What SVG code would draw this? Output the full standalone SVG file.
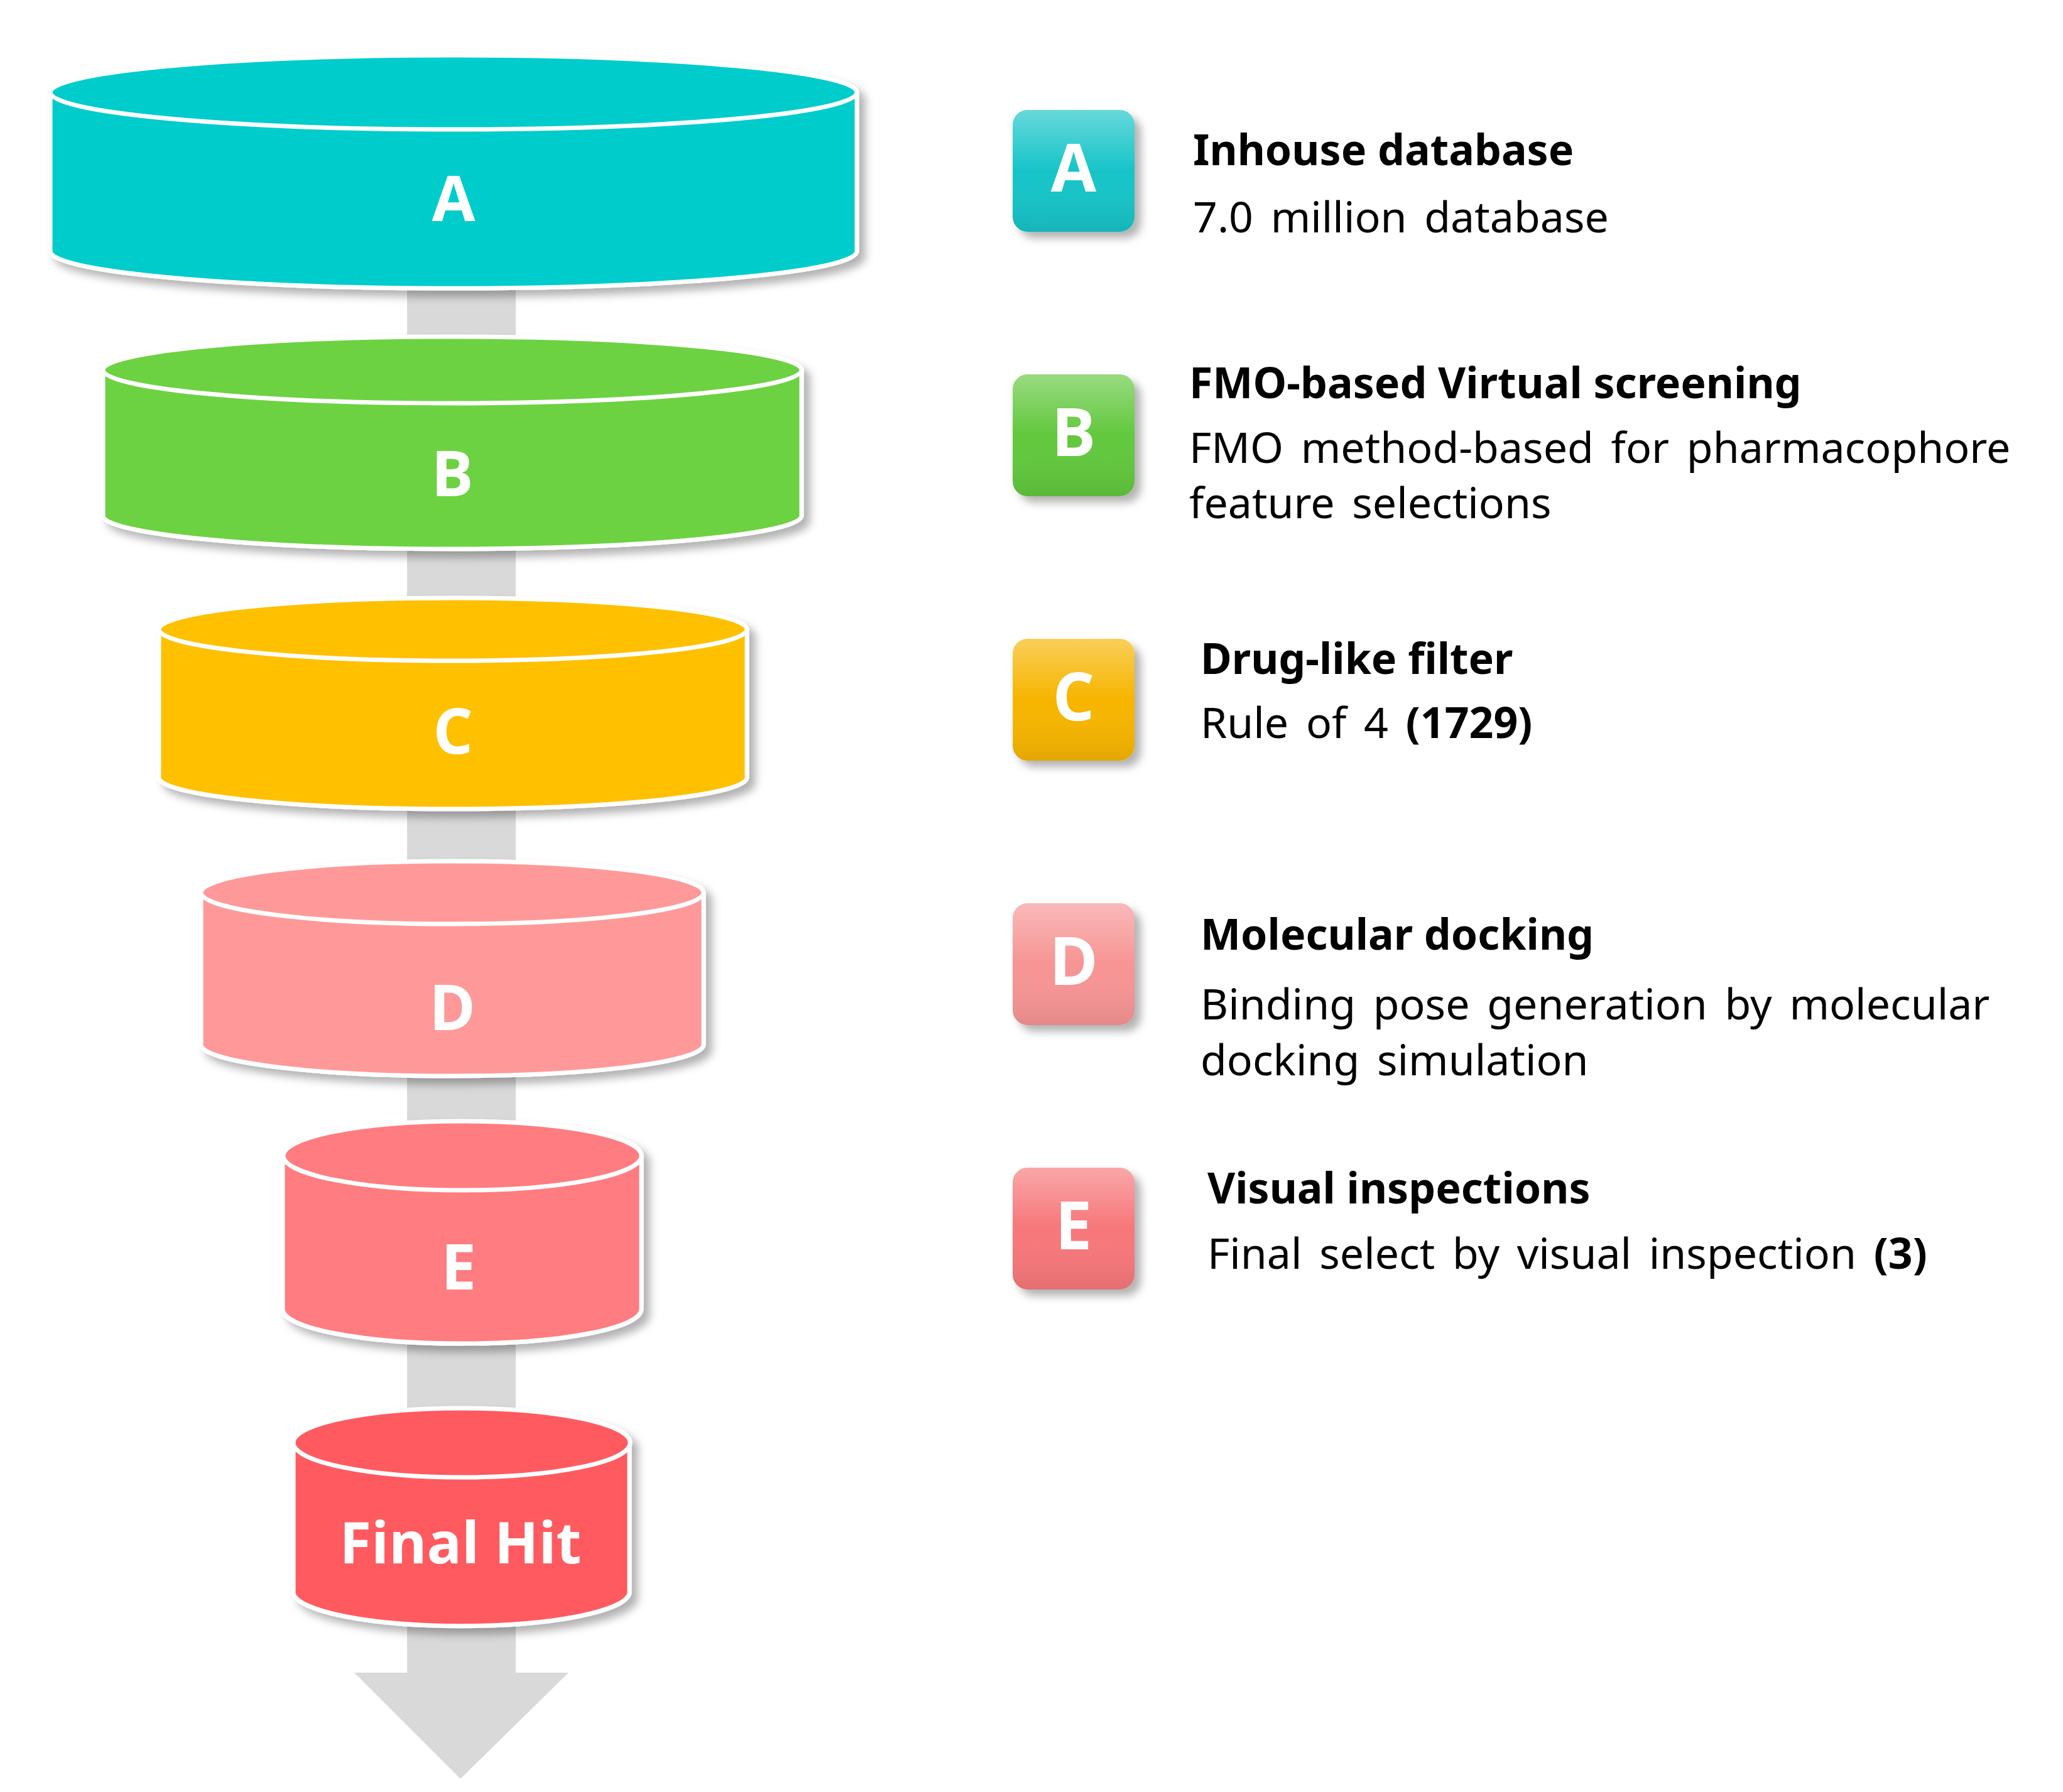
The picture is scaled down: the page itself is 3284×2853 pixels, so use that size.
<svg xmlns="http://www.w3.org/2000/svg" width="3284" height="2853" viewBox="0 0 3284 2853">
<defs>
<filter id="sh" x="-10%" y="-10%" width="125%" height="130%"><feDropShadow dx="10" dy="10" stdDeviation="7" flood-color="#000" flood-opacity="0.3"/></filter>
<linearGradient id="gl" x1="0" y1="0" x2="0" y2="1"><stop offset="0" stop-color="#fff" stop-opacity="0.35"/><stop offset="0.5" stop-color="#fff" stop-opacity="0"/><stop offset="1" stop-color="#000" stop-opacity="0.08"/></linearGradient>
</defs>
<style>
.cyl{stroke:#fff;stroke-width:7}
.cl{font-family:"Open Sans","Noto Sans",sans-serif;font-weight:700;font-size:100px;fill:#fff;text-anchor:middle}
.bl{font-family:"Open Sans","Noto Sans",sans-serif;font-weight:700;font-size:105px;fill:#fff;text-anchor:middle}
.t{font-family:"Noto Sans","Open Sans",sans-serif;font-weight:700;font-size:68px;fill:#000}
.b{font-family:"Noto Sans","Open Sans",sans-serif;font-size:68px;fill:#000;word-spacing:10px}
</style>
<g id="connectors">
<rect x="648" y="400" width="173" height="2263" fill="#d9d9d9"/>
<polygon points="564,2663 905,2663 733,2832" fill="#d9d9d9"/>
</g>
<g id="cylA" filter="url(#sh)">
<path class="cyl" fill="#00CCCC" d="M80,147 V400 A642,59 0 0 0 1364,400 V147"/>
<ellipse class="cyl" fill="#00CCCC" cx="722" cy="147" rx="642" ry="59"/>
<text class="cl" x="722" y="352">A</text>
</g>
<g id="cylB" filter="url(#sh)">
<path class="cyl" fill="#6CD242" d="M164,589 V821 A556,53 0 0 0 1276,821 V589"/>
<ellipse class="cyl" fill="#6CD242" cx="720" cy="589" rx="556" ry="53"/>
<text class="cl" x="720" y="790">B</text>
</g>
<g id="cylC" filter="url(#sh)">
<path class="cyl" fill="#FFC000" d="M253,1002 V1238 A468,50 0 0 0 1189,1238 V1002"/>
<ellipse class="cyl" fill="#FFC000" cx="721" cy="1002" rx="468" ry="50"/>
<text class="cl" x="721" y="1200">C</text>
</g>
<g id="cylD" filter="url(#sh)">
<path class="cyl" fill="#FF9999" d="M320,1421 V1663 A400,50 0 0 0 1120,1663 V1421"/>
<ellipse class="cyl" fill="#FF9999" cx="720" cy="1421" rx="400" ry="50"/>
<text class="cl" x="720" y="1640">D</text>
</g>
<g id="cylE" filter="url(#sh)">
<path class="cyl" fill="#FF7C80" d="M450,1840 V2084 A285,55 0 0 0 1021,2084 V1840"/>
<ellipse class="cyl" fill="#FF7C80" cx="736" cy="1840" rx="285" ry="55"/>
<text class="cl" x="730" y="2053">E</text>
</g>
<g id="cylFinal" filter="url(#sh)">
<path class="cyl" fill="#FF5A5F" d="M467,2297 V2537 A268,55 0 0 0 1002,2537 V2297"/>
<ellipse class="cyl" fill="#FF5A5F" cx="735" cy="2297" rx="268" ry="55"/>
<text class="cl" x="733" y="2489" style="font-size:92px">Final Hit</text>
</g>
<g id="legA">
<rect x="1612" y="175" width="194" height="194" rx="24" fill="#13C4C8" filter="url(#sh)"/>
<rect x="1612" y="175" width="194" height="194" rx="24" fill="url(#gl)"/>
<text class="bl" x="1709" y="305">A</text>
<text class="t" x="1899" y="263">Inhouse database</text>
<text class="b" x="1899" y="370">7.0 million database</text>
</g>
<g id="legB">
<rect x="1612" y="596" width="194" height="194" rx="24" fill="#62C83C" filter="url(#sh)"/>
<rect x="1612" y="596" width="194" height="194" rx="24" fill="url(#gl)"/>
<text class="bl" x="1709" y="726">B</text>
<text class="t" x="1893" y="634">FMO-based Virtual screening</text>
<text class="b" x="1893" y="737">FMO method-based for pharmacophore</text>
<text class="b" x="1893" y="825">feature selections</text>
</g>
<g id="legC">
<rect x="1612" y="1017" width="194" height="194" rx="24" fill="#F7B500" filter="url(#sh)"/>
<rect x="1612" y="1017" width="194" height="194" rx="24" fill="url(#gl)"/>
<text class="bl" x="1709" y="1147">C</text>
<text class="t" x="1911" y="1073">Drug-like filter</text>
<text class="b" x="1911" y="1175">Rule of 4 <tspan font-weight="700">(1729)</tspan></text>
</g>
<g id="legD">
<rect x="1612" y="1438" width="194" height="194" rx="24" fill="#F79494" filter="url(#sh)"/>
<rect x="1612" y="1438" width="194" height="194" rx="24" fill="url(#gl)"/>
<text class="bl" x="1709" y="1568">D</text>
<text class="t" x="1911" y="1512">Molecular docking</text>
<text class="b" x="1911" y="1623">Binding pose generation by molecular</text>
<text class="b" x="1911" y="1712">docking simulation</text>
</g>
<g id="legE">
<rect x="1612" y="1859" width="194" height="194" rx="24" fill="#F7777A" filter="url(#sh)"/>
<rect x="1612" y="1859" width="194" height="194" rx="24" fill="url(#gl)"/>
<text class="bl" x="1709" y="1989">E</text>
<text class="t" x="1922" y="1916">Visual inspections</text>
<text class="b" x="1922" y="2020">Final select by visual inspection <tspan font-weight="700">(3)</tspan></text>
</g>
</svg>
